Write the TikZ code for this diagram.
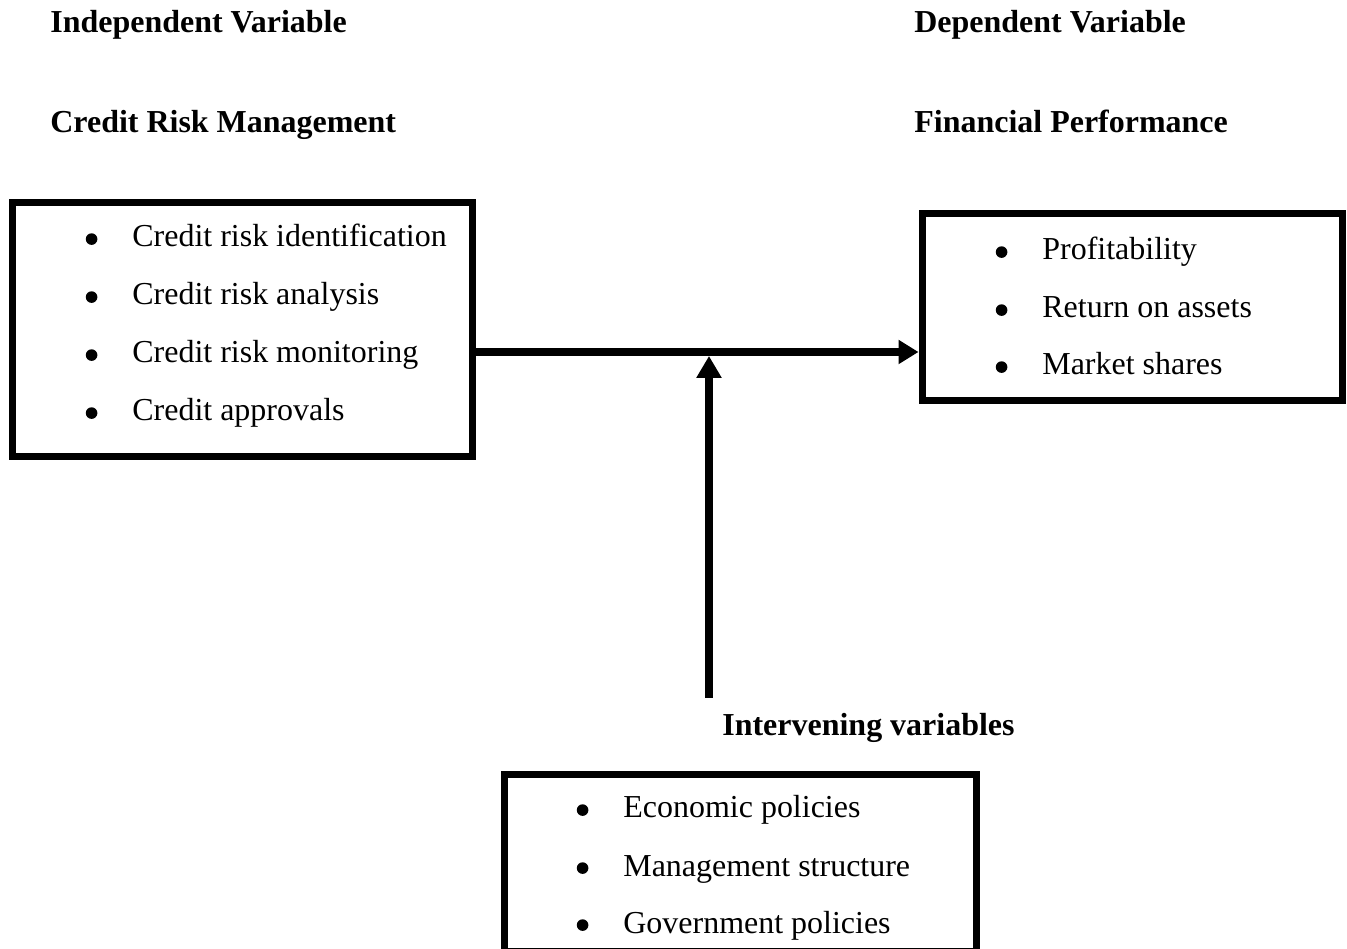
\documentclass[tikz,border=0pt]{standalone}
\usepackage{fontspec}
\setmainfont{Liberation Serif}
\usetikzlibrary{arrows.meta}

\newcommand{\bul}{\llap{\tikz[baseline=-4.5pt]\fill (0,0) circle (3.3pt);\hspace{19.9pt}}}

\begin{document}
\begin{tikzpicture}[x=0.02cm, y=-0.02cm,
	every node/.style={font=\fontsize{18.2}{22}\selectfont},
	head/.style={anchor=base west, inner sep=0pt, font=\fontsize{18.2}{22}\selectfont\bfseries},
	item/.style={anchor=base west, inner sep=0pt},
	box/.style={draw=black, line width=4pt, inner sep=0pt},
	link/.style={line width=4.5pt, -{Triangle[length=0.4cm, width=0.46cm]}}]
	
	\useasboundingbox (0, 0) rectangle (1347, 949);
	
	\node[head] (iv)  at (50, 33)    {Independent Variable};
	\node[head] (dv)  at (914, 33)   {Dependent Variable};
	\node[head] (crmt) at (50, 133)  {Credit Risk Management};
	\node[head] (fpt) at (914, 133)  {Financial Performance};
	\node[head] (ivt) at (722, 736)  {Intervening variables};
	
	\node[box, minimum width=9.22cm, minimum height=5.09cm] (crm) at (242.5, 329.75) {};
	\node[box, minimum width=8.42cm, minimum height=3.75cm] (fp)  at (1132.5, 307.25) {};
	\node[box, minimum width=9.46cm, minimum height=3.56cm] (int) at (740.5, 863)     {};
	
	\node[item] (c1) at (132, 247)  {\bul Credit risk identification};
	\node[item] (c2) at (132, 305)  {\bul Credit risk analysis};
	\node[item] (c3) at (132, 363)  {\bul Credit risk monitoring};
	\node[item] (c4) at (132, 421)  {\bul Credit approvals};
	
	\node[item] (p1) at (1042, 260) {\bul Profitability};
	\node[item] (p2) at (1042, 318) {\bul Return on assets};
	\node[item] (p3) at (1042, 375) {\bul Market shares};
	
	\node[item] (e1) at (623, 818)  {\bul Economic policies};
	\node[item] (e2) at (623, 876)  {\bul Management structure};
	\node[item] (e3) at (623, 933)  {\bul Government policies};
	
	\coordinate (mid)   at (709, 352);
	\coordinate (ivtop) at (709, 698);
	
	\path[link] (crm.east |- mid) edge (fp.west |- mid);
	\path[link, -{Triangle[length=0.44cm, width=0.48cm]}] (ivtop) edge[shorten >=2.25pt] (mid);
	
\end{tikzpicture}
\end{document}
